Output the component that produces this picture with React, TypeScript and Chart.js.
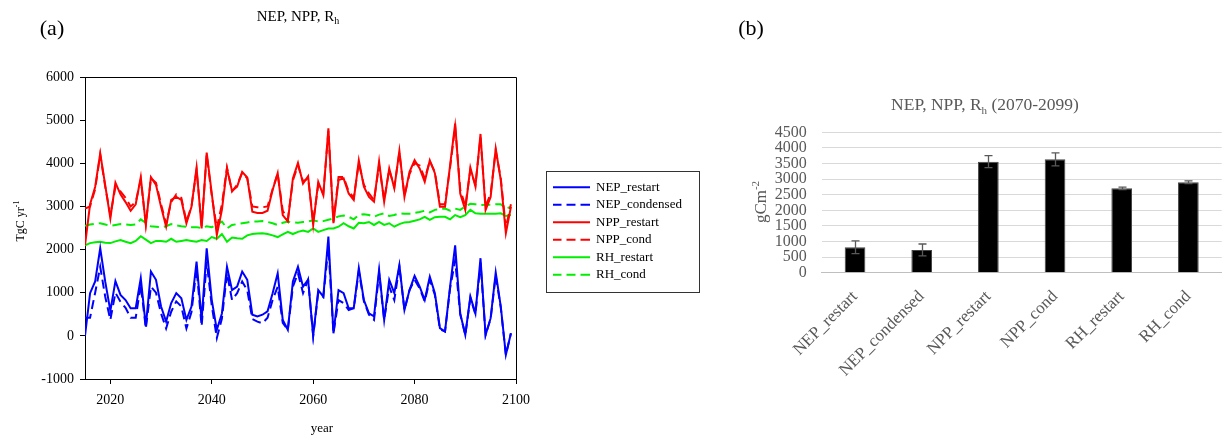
import React, { useEffect, useRef } from "react";
import { Chart, registerables } from "chart.js";

Chart.register(...registerables);

const FONT = "'Liberation Serif', 'Times New Roman', serif";

// ---------- Panel (a) data: annual series, 2015-2099 ----------
const FIRST_YEAR = 2015;
const X_TICKS = [2020, 2040, 2060, 2080, 2100];
const SERIES_NAMES = ["NEP_restart", "NEP_condensed", "NPP_restart", "NPP_cond", "RH_restart", "RH_cond"];

const NEP_RESTART = [
  0, 990, 1260, 2030, 1250, 580, 1270, 950, 830, 640,
  640, 1340, 220, 1490, 1300, 680, 330, 760, 990, 870,
  370, 680, 1720, 370, 2030, 830, 140, 520, 1600, 1060,
  1140, 1490, 1300, 490, 450, 490, 570, 990, 1450, 370,
  140, 1260, 1600, 1140, 1300, 0, 1060, 910, 2300, 60,
  1060, 990, 640, 640, 1570, 830, 520, 450, 1530, 370,
  1300, 990, 1640, 600, 1060, 1390, 1140, 830, 1370, 990,
  180, 100, 1140, 2100, 520, 20, 910, 520, 1800, 20,
  410, 1470, 680, -440, 60,
];
const NEP_COND = [
  420, 420, 1000, 1600, 900, 370, 1000, 790, 650, 420,
  420, 1180, 170, 1140, 1000, 520, 170, 560, 800, 680,
  170, 550, 1570, 220, 1720, 700, -50, 400, 1450, 830,
  990, 1260, 1060, 390, 330, 290, 420, 830, 1140, 300,
  140, 1140, 1450, 990, 1300, 0, 1000, 900, 2060, 60,
  830, 760, 600, 640, 1500, 800, 490, 370, 1450, 370,
  1140, 830, 1600, 600, 1060, 1300, 1100, 800, 1300, 950,
  150, 100, 1100, 1750, 500, 20, 880, 500, 1700, 20,
  400, 1400, 650, -440, 60,
];
const NPP_RESTART = [
  2100, 3050, 3450, 4230, 3480, 2720, 3550, 3280, 3100, 2900,
  3050, 3680, 2570, 3680, 3500, 2990, 2530, 3150, 3220, 3150,
  2610, 2990, 3900, 2490, 4250, 3300, 2340, 2920, 3880, 3360,
  3460, 3800, 3670, 2880, 2850, 2850, 2900, 3380, 3770, 2800,
  2650, 3650, 4010, 3530, 3700, 2570, 3570, 3260, 4810, 2610,
  3610, 3650, 3300, 3150, 4070, 3460, 3220, 3110, 4040, 3110,
  3880, 3420, 4290, 3220, 3800, 4070, 3880, 3570, 4070, 3770,
  2990, 2990, 3950, 4920, 3300, 2920, 3900, 3460, 4680, 2920,
  3220, 4340, 3610, 2380, 2990,
];
const NPP_COND = [
  2950, 3000, 3400, 4200, 3450, 2800, 3450, 3350, 3200, 3000,
  3100, 3620, 2600, 3650, 3550, 3050, 2600, 3100, 3280, 3200,
  2650, 3000, 3850, 2550, 4200, 3250, 2500, 3050, 3900, 3350,
  3500, 3780, 3650, 3000, 2980, 2980, 3000, 3400, 3760, 2900,
  2700, 3600, 3950, 3580, 3650, 2650, 3500, 3300, 4750, 2650,
  3680, 3680, 3350, 3200, 4000, 3500, 3300, 3150, 3950, 3150,
  3850, 3450, 4250, 3250, 3750, 4000, 3950, 3650, 4050, 3800,
  3050, 3050, 3900, 4850, 3400, 3000, 3850, 3500, 4600, 3000,
  3300, 4300, 3650, 2500, 3050,
];
const RH_RESTART = [
  2100, 2150, 2170, 2180, 2160, 2150, 2190, 2220, 2180, 2150,
  2200, 2310, 2230, 2150, 2200, 2200, 2180, 2250, 2180, 2200,
  2220, 2200, 2180, 2220, 2200, 2290, 2250, 2360, 2180, 2280,
  2260, 2250, 2330, 2360, 2370, 2380, 2360, 2330, 2290, 2350,
  2410, 2360, 2410, 2440, 2410, 2490, 2410, 2450, 2490, 2490,
  2530, 2610, 2540, 2490, 2620, 2610, 2640, 2570, 2640, 2570,
  2610, 2530, 2590, 2630, 2640, 2670, 2700, 2760, 2690, 2750,
  2760, 2760, 2700, 2800, 2750, 2800, 2920, 2840, 2830, 2830,
  2830, 2830, 2840, 2780, 2800,
];
const RH_COND = [
  2550, 2580, 2600, 2610, 2580, 2550, 2570, 2590, 2580, 2570,
  2580, 2700, 2620, 2540, 2530, 2520, 2540, 2590, 2560, 2540,
  2530, 2520, 2520, 2500, 2540, 2520, 2580, 2650, 2490, 2570,
  2590, 2610, 2630, 2650, 2650, 2660, 2640, 2610, 2570, 2620,
  2650, 2630, 2620, 2640, 2650, 2680, 2650, 2660, 2690, 2720,
  2770, 2790, 2760, 2700, 2800, 2820, 2800, 2760, 2810, 2840,
  2780, 2800, 2840, 2830, 2830, 2850, 2870, 2900, 2860, 2920,
  2940, 2950, 2900, 2950, 2920, 3000, 3060, 3050, 3030, 3040,
  3040, 3050, 3050, 2950, 2990,
];
const YEARS = NEP_RESTART.map((_, i) => FIRST_YEAR + i);

// ---------- Panel (b) data: 2070-2099 means ----------
const BAR_LABELS = ["NEP_restart", "NEP_condensed", "NPP_restart", "NPP_cond", "RH_restart", "RH_cond"];
const BAR_VALUES = [815, 730, 3560, 3635, 2705, 2900];
const BAR_ERRORS = [205, 190, 195, 208, 40, 45];

const DASH = [9, 5];

type Seg = { text: string; size: number; dy: number };

function drawSegs(ctx: CanvasRenderingContext2D, segs: Seg[], x: number, y: number, align: "center" | "left", color: string) {
  const widths = segs.map((s) => {
    ctx.font = `${s.size}px ${FONT}`;
    return ctx.measureText(s.text).width;
  });
  const total = widths.reduce((a, b) => a + b, 0);
  let cx = align === "center" ? x - total / 2 : x;
  ctx.textAlign = "left";
  ctx.textBaseline = "alphabetic";
  ctx.fillStyle = color;
  segs.forEach((s, i) => {
    ctx.font = `${s.size}px ${FONT}`;
    ctx.fillText(s.text, cx, y + s.dy);
    cx += widths[i];
  });
}

function lineSample(color: string, dashed: boolean) {
  const c = document.createElement("canvas");
  c.width = 37;
  c.height = 4;
  const g = c.getContext("2d")!;
  g.strokeStyle = color;
  g.lineWidth = 2;
  g.setLineDash(dashed ? DASH : []);
  g.beginPath();
  g.moveTo(0, 2);
  g.lineTo(37, 2);
  g.stroke();
  return c;
}

function LeftChart() {
  const ref = useRef<HTMLCanvasElement>(null);
  useEffect(() => {
    const canvas = ref.current!;
    const mk = (label: string, vals: number[], color: string, dashed: boolean) => ({
      label,
      data: YEARS.map((yr, i) => ({ x: yr, y: vals[i] })),
      borderColor: color,
      backgroundColor: color,
      borderWidth: 2,
      borderDash: dashed ? DASH : [],
      pointRadius: 0,
      pointStyle: lineSample(color, dashed),
      tension: 0,
      fill: false,
    });

    const legendPatch = {
      id: "legendPatch",
      afterInit(chart: any) {
        const lg = chart.legend;
        if (!lg) return;
        const origFit = lg.fit.bind(lg);
        lg.fit = function () {
          origFit();
          this.width = 172;
        };
        const origDraw = lg.draw.bind(lg);
        lg.draw = function () {
          const ctx = chart.ctx;
          ctx.save();
          ctx.translate(0, 3);
          origDraw();
          ctx.restore();
          ctx.save();
          ctx.strokeStyle = "#333";
          ctx.lineWidth = 1;
          const top = chart.chartArea.top + 94;
          ctx.strokeRect(Math.round(this.left - 2) + 0.5, Math.round(top) + 0.5, 153, 121);
          ctx.restore();
        };
      },
    };

    const decor = {
      id: "leftDecor",
      afterDraw(chart: any) {
        const ctx = chart.ctx;
        const a = chart.chartArea;
        ctx.save();
        ctx.strokeStyle = "#000";
        ctx.lineWidth = 1;
        ctx.beginPath();
        ctx.moveTo(a.left, Math.round(a.top) + 0.5);
        ctx.lineTo(Math.round(a.right) + 0.5, Math.round(a.top) + 0.5);
        ctx.lineTo(Math.round(a.right) + 0.5, a.bottom);
        ctx.stroke();
        drawSegs(ctx, [{ text: "(a)", size: 22, dy: 0 }], 52, 35, "center", "#000");
        drawSegs(
          ctx,
          [
            { text: "NEP, NPP, R", size: 15, dy: 0 },
            { text: "h", size: 10, dy: 3 },
          ],
          298,
          21,
          "center",
          "#000"
        );
        drawSegs(ctx, [{ text: "year", size: 13, dy: 0 }], 322, 432, "center", "#000");
        ctx.save();
        ctx.translate(24, 221);
        ctx.rotate(-Math.PI / 2);
        drawSegs(
          ctx,
          [
            { text: "TgC yr", size: 12, dy: 0 },
            { text: "-1", size: 8, dy: -5 },
          ],
          0,
          0,
          "center",
          "#000"
        );
        ctx.restore();
        ctx.restore();
      },
    };

    const chart = new Chart(canvas, {
      type: "line",
      data: {
        datasets: [
          mk(SERIES_NAMES[0], NEP_RESTART, "#0000ff", false),
          mk(SERIES_NAMES[1], NEP_COND, "#0000ff", true),
          mk(SERIES_NAMES[2], NPP_RESTART, "#ff0000", false),
          mk(SERIES_NAMES[3], NPP_COND, "#ff0000", true),
          mk(SERIES_NAMES[4], RH_RESTART, "#00ee00", false),
          mk(SERIES_NAMES[5], RH_COND, "#00ee00", true),
        ] as any,
      },
      options: {
        responsive: false,
        animation: false,
        layout: { padding: { top: 77, left: 0, right: 0, bottom: 0 } },
        scales: {
          x: {
            type: "linear",
            min: 2015,
            max: 2100,
            afterBuildTicks: (s: any) => {
              s.ticks = X_TICKS.map((v) => ({ value: v }));
            },
            ticks: {
              callback: (v: any) => String(v),
              font: { family: FONT, size: 14 },
              color: "#000",
              padding: 8,
              maxRotation: 0,
            },
            grid: { drawOnChartArea: false, tickLength: 5, color: "#000" },
            border: { color: "#000" },
            afterFit: (s: any) => {
              s.height = 58;
            },
          },
          y: {
            type: "linear",
            min: -1000,
            max: 6000,
            ticks: {
              stepSize: 1000,
              callback: (v: any) => String(v),
              font: { family: FONT, size: 14 },
              color: "#000",
              padding: 6,
            },
            grid: { drawOnChartArea: false, tickLength: 5, color: "#000" },
            border: { color: "#000" },
            afterFit: (s: any) => {
              s.width = 85;
            },
          },
          y2: {
            type: "linear",
            position: "right",
            grid: { display: false },
            ticks: { display: false },
            border: { display: false },
            afterFit: (s: any) => {
              s.width = 32;
            },
          },
        } as any,
        plugins: {
          legend: {
            position: "right",
            fullSize: false,
            labels: {
              usePointStyle: true,
              pointStyleWidth: 37,
              padding: 4.5,
              font: { family: FONT, size: 13 },
              color: "#000",
            },
          } as any,
          tooltip: { enabled: false },
        },
      },
      plugins: [legendPatch, decor],
    });
    return () => chart.destroy();
  }, []);
  return (
    <canvas
      ref={ref}
      width={720}
      height={437}
      style={{ position: "absolute", left: 0, top: 0, width: 720, height: 437 }}
    />
  );
}

function RightChart() {
  const ref = useRef<HTMLCanvasElement>(null);
  useEffect(() => {
    const canvas = ref.current!;
    const decor = {
      id: "rightDecor",
      afterDatasetsDraw(chart: any) {
        const ctx = chart.ctx;
        const meta = chart.getDatasetMeta(0);
        const ys = chart.scales.y;
        ctx.save();
        ctx.strokeStyle = "#595959";
        ctx.lineWidth = 1.3;
        meta.data.forEach((el: any, i: number) => {
          const x = Math.round(el.x) + 0.5;
          const t = ys.getPixelForValue(BAR_VALUES[i] + BAR_ERRORS[i]);
          const b = ys.getPixelForValue(BAR_VALUES[i] - BAR_ERRORS[i]);
          ctx.beginPath();
          ctx.moveTo(x, t);
          ctx.lineTo(x, b);
          ctx.moveTo(x - 4, t);
          ctx.lineTo(x + 4, t);
          ctx.moveTo(x - 4, b);
          ctx.lineTo(x + 4, b);
          ctx.stroke();
        });
        ctx.restore();
      },
      afterDraw(chart: any) {
        const ctx = chart.ctx;
        ctx.save();
        drawSegs(ctx, [{ text: "(b)", size: 22, dy: 0 }], 31, 35, "center", "#000");
        drawSegs(
          ctx,
          [
            { text: "NEP, NPP, R", size: 17.5, dy: 0 },
            { text: "h", size: 11, dy: 4 },
            { text: " (2070-2099)", size: 17.5, dy: 0 },
          ],
          265,
          110,
          "center",
          "#595959"
        );
        ctx.save();
        ctx.translate(46, 202);
        ctx.rotate(-Math.PI / 2);
        drawSegs(
          ctx,
          [
            { text: "gCm", size: 17, dy: 0 },
            { text: "-2", size: 11, dy: -7 },
          ],
          0,
          0,
          "center",
          "#595959"
        );
        ctx.restore();
        ctx.restore();
      },
    };

    const chart = new Chart(canvas, {
      type: "bar",
      data: {
        labels: BAR_LABELS,
        datasets: [
          {
            data: BAR_VALUES,
            backgroundColor: "#000",
            borderColor: "#444",
            borderWidth: 1,
            barPercentage: 0.31,
            categoryPercentage: 1,
          },
        ],
      },
      options: {
        responsive: false,
        animation: false,
        layout: { padding: { top: 132.3, right: 3.3, left: 0, bottom: 0 } },
        scales: {
          x: {
            grid: { display: false },
            border: { color: "#bfbfbf" },
            ticks: {
              minRotation: 45,
              maxRotation: 45,
              font: { family: FONT, size: 17 },
              color: "#595959",
              padding: 6,
            },
            afterFit: (s: any) => {
              s.height = 164.3;
            },
          },
          y: {
            min: 0,
            max: 4500,
            ticks: {
              stepSize: 500,
              autoSkip: false,
              callback: (v: any) => String(v),
              font: { family: FONT, size: 16 },
              color: "#595959",
              padding: 15,
            },
            grid: { color: "#d9d9d9", drawTicks: false },
            border: { display: false },
            afterFit: (s: any) => {
              s.width = 101.7;
            },
          },
        } as any,
        plugins: {
          legend: { display: false },
          tooltip: { enabled: false },
        },
      },
      plugins: [decor],
    });
    return () => chart.destroy();
  }, []);
  return (
    <canvas
      ref={ref}
      width={505}
      height={437}
      style={{ position: "absolute", left: 720, top: 0, width: 505, height: 437 }}
    />
  );
}

export default function App() {
  return (
    <div
      style={{
        position: "absolute",
        left: 0,
        top: 0,
        width: 1225,
        height: 437,
        background: "#fff",
        overflow: "hidden",
      }}
    >
      <LeftChart />
      <RightChart />
    </div>
  );
}
